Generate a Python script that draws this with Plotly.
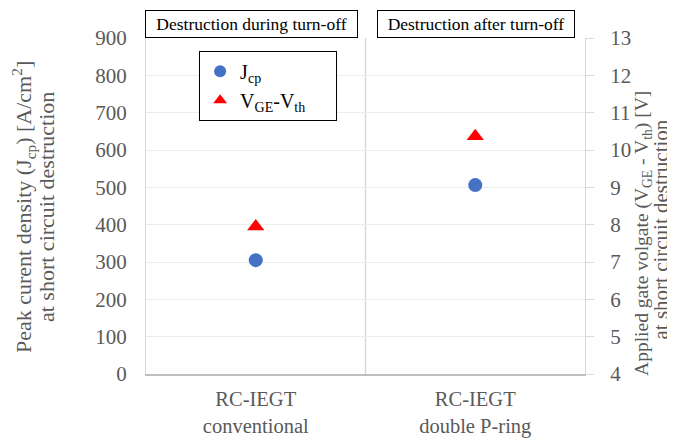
import plotly.graph_objects as go

categories = ["RC-IEGT<br>conventional", "RC-IEGT<br>double P-ring"]
jcp_values = [305, 506]
vge_values = [7.95, 10.37]
region_labels = ["Destruction during turn-off", "Destruction after turn-off"]
left_ticks = [0, 100, 200, 300, 400, 500, 600, 700, 800, 900]
right_ticks = [4, 5, 6, 7, 8, 9, 10, 11, 12, 13]
left_title = ["Peak curent density (J<sub>cp</sub>) [A/cm<sup>2</sup>]", "at short circuit destruction"]
right_title = ["Applied gate volgate (V<sub>GE</sub> - V<sub>th</sub>) [V]", "at short circuit destruction"]

xpos = list(range(len(categories)))
FONT = "Liberation Serif"
GRAY = "#595959"

fig = go.Figure()
fig.add_trace(go.Scatter(
    x=xpos, y=jcp_values, mode="markers", name="J<sub>cp</sub>", legendgroup="a",
    marker=dict(symbol="circle", size=14, color="#4472C4"),
))
fig.add_trace(go.Scatter(
    x=xpos, y=vge_values, mode="markers",
    name="V<sub>GE</sub>-V<sub>th</sub>&nbsp;&nbsp;&nbsp;&nbsp;&nbsp;",
    legendgroup="b",
    marker=dict(symbol="triangle-up", size=15, color="#FF0000"), yaxis="y2",
))

# divider between regions
fig.add_shape(type="line", xref="x", yref="paper", x0=0.5, x1=0.5, y0=0, y1=1,
              line=dict(color="#d9d9d9", width=1.5), layer="below")

# region boxes
for lbl, xc, w in [(region_labels[0], 0.240, 207), (region_labels[1], 0.752, 192)]:
    fig.add_annotation(text=lbl, xref="paper", yref="paper", x=xc, y=1.0,
                       xanchor="center", yanchor="bottom", showarrow=False,
                       font=dict(family=FONT, size=17.5, color="black"),
                       width=w, height=22,
                       bordercolor="black", borderwidth=1, borderpad=2, bgcolor="white")

# axis titles
for txt, xs, yc, sz in [(left_title[0], -123, 0.497, 22), (left_title[1], -100, 0.497, 22),
                        (right_title[0], 58, 0.417, 19.5), (right_title[1], 76, 0.43, 21)]:
    fig.add_annotation(text=txt, xref="paper", yref="paper", x=0 if xs < 0 else 1, y=yc,
                       xshift=xs, textangle=-90, showarrow=False,
                       xanchor="center", yanchor="middle",
                       font=dict(family=FONT, size=sz, color=GRAY))

fig.update_layout(
    width=675, height=440,
    margin=dict(l=138, r=98, t=30, b=74),
    paper_bgcolor="white", plot_bgcolor="white",
    font=dict(family=FONT, size=20, color=GRAY),
    showlegend=True,
    legend=dict(x=0.121, y=0.962, xanchor="left", yanchor="top",
                bgcolor="white", bordercolor="black", borderwidth=1,
                font=dict(family=FONT, size=20, color="black"),
                itemsizing="constant", tracegroupgap=0),
    xaxis=dict(range=[-0.5, 1.5], tickvals=xpos, ticktext=categories,
               showgrid=False, zeroline=False, showline=True, automargin=False,
               linecolor="#bfbfbf", linewidth=1.5, ticks="", ticklabelstandoff=6,
               tickfont=dict(family=FONT, size=20.5, color=GRAY)),
    yaxis=dict(range=[0, 900], tickvals=left_ticks, showgrid=True, automargin=False,
               gridcolor="#ececec", gridwidth=1, zeroline=False,
               showline=True, linecolor="#d9d9d9", ticks="", ticklabelstandoff=14,
               tickfont=dict(family=FONT, size=21, color=GRAY)),
    yaxis2=dict(range=[4, 13], tickvals=right_ticks, overlaying="y", side="right",
                showgrid=False, zeroline=False, showline=True, automargin=False,
                linecolor="#d9d9d9", ticks="outside", ticklen=8, tickcolor="#d9d9d9",
                ticklabelstandoff=12,
                tickfont=dict(family=FONT, size=21, color=GRAY)),
)

fig.write_html("out.html")
